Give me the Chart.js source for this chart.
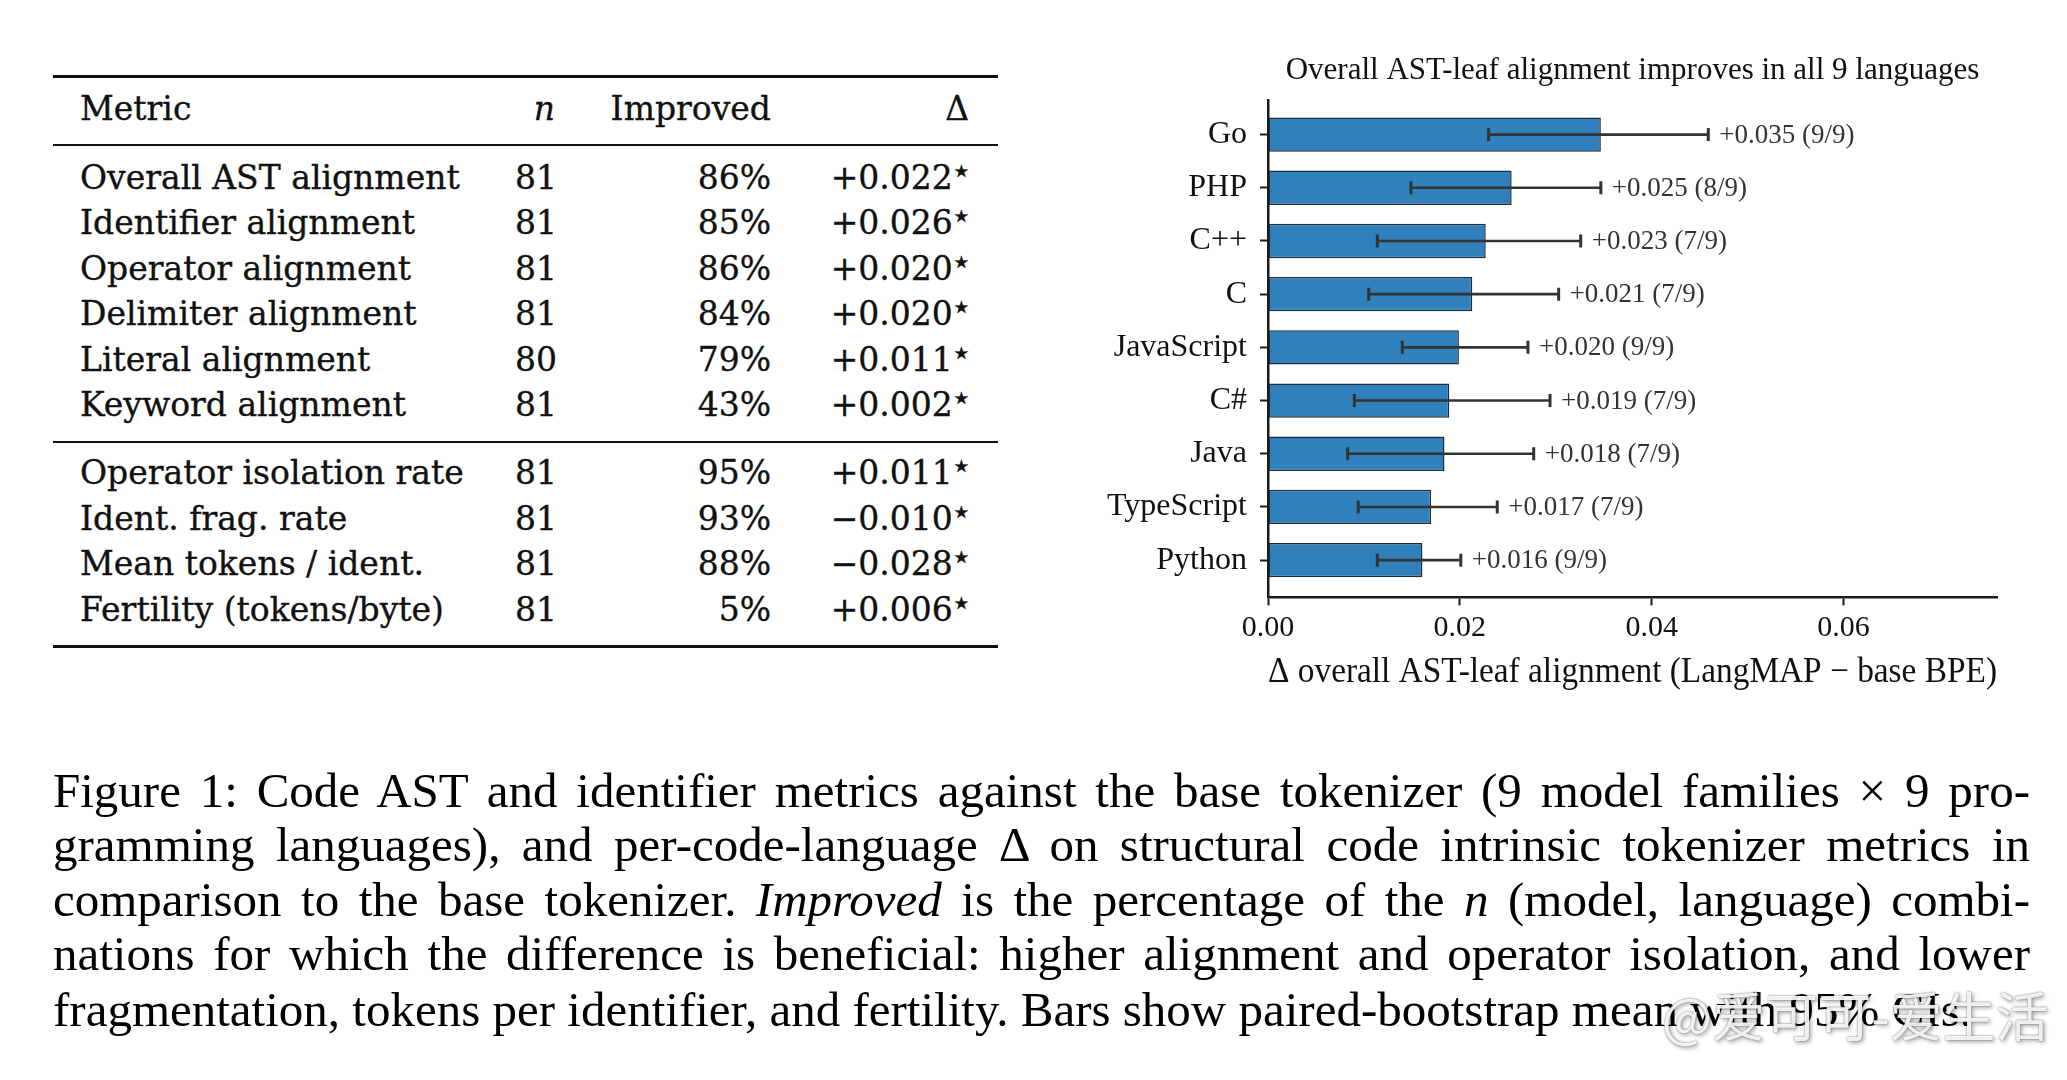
<!DOCTYPE html>
<html>
<head>
<meta charset="utf-8">
<script src="https://cdn.jsdelivr.net/npm/chart.js@4.4.1/dist/chart.umd.min.js"></script>
<style>
  html, body { margin: 0; padding: 0; background: #fff; }
  #page { position: relative; width: 2067px; height: 1080px; overflow: hidden; background: #fff; }
  .rule { position: absolute; left: 53px; width: 945px; background: #111; }
  .cell { position: absolute; font-family: "DejaVu Serif", serif; font-size: 33px; color: #111; line-height: 40px; white-space: nowrap; -webkit-text-stroke: 0.35px #111; }
  .star { font-family: "DejaVu Sans", sans-serif; font-size: 17px; position: relative; top: -12px; margin-left: 1px; }
  .cap { position: absolute; left: 53px; width: 1977px; font-family: "Liberation Serif", serif; font-size: 49px; line-height: 54px; color: #000; white-space: nowrap; }
  .just { text-align: justify; text-align-last: justify; }
  #chartBox { position: absolute; left: 1060px; top: 40px; width: 1000px; height: 654px; }
  #wm { position: absolute; left: 1662px; top: 976px; font-family: "Noto Sans CJK SC", sans-serif; font-size: 53px; color: rgba(255,255,255,0.9);
        text-shadow: 0 0 2px rgba(0,0,0,0.55), 2px 2px 4px rgba(0,0,0,0.35); white-space: nowrap; }
</style>
</head>
<body>
<div id="page">
  <div id="table"></div>
  <div id="chartBox"><canvas id="chartAst"></canvas></div>

  <div class="cap just" style="top:764px">Figure 1: Code AST and identifier metrics against the base tokenizer (9 model families × 9 pro-</div>
  <div class="cap just" style="top:818px">gramming languages), and per-code-language Δ on structural code intrinsic tokenizer metrics in</div>
  <div class="cap just" style="top:873px">comparison to the base tokenizer. <i>Improved</i> is the percentage of the <i>n</i> (model, language) combi-</div>
  <div class="cap just" style="top:927px">nations for which the difference is beneficial: higher alignment and operator isolation, and lower</div>
  <div class="cap" style="top:983px">fragmentation, tokens per identifier, and fertility. Bars show paired-bootstrap mean with 95% CIs.</div>

  <div id="wm">@爱可可-爱生活</div>
</div>

<script>
// Tabela de métricas
const metricNames = ['Overall AST alignment', 'Identifier alignment', 'Operator alignment', 'Delimiter alignment',
  'Literal alignment', 'Keyword alignment', 'Operator isolation rate', 'Ident. frag. rate',
  'Mean tokens / ident.', 'Fertility (tokens/byte)'];
const nValues = [81, 81, 81, 81, 80, 81, 81, 81, 81, 81];
const improvedPct = [86, 85, 86, 84, 79, 43, 95, 93, 88, 5];
const deltaValues = [0.022, 0.026, 0.020, 0.020, 0.011, 0.002, 0.011, -0.010, -0.028, 0.006];

// Gráfico por linguagem
const languages = ['Go', 'PHP', 'C++', 'C', 'JavaScript', 'C#', 'Java', 'TypeScript', 'Python'];
const meanDelta = [0.0347, 0.0254, 0.0227, 0.0213, 0.0199, 0.0189, 0.0184, 0.0170, 0.0161];
const ciLow = [0.0230, 0.0149, 0.0114, 0.0105, 0.0140, 0.0090, 0.0083, 0.0094, 0.0114];
const ciHigh = [0.0459, 0.0347, 0.0326, 0.0303, 0.0271, 0.0294, 0.0277, 0.0239, 0.0201];
const modelWins = [9, 8, 7, 7, 9, 7, 7, 7, 9];
const modelCount = 9;
const xTicks = [0, 0.02, 0.04, 0.06];
const chartTitle = 'Overall AST-leaf alignment improves in all 9 languages';

// ---- caption: shrink a bit if a line would overflow ----
const caps = Array.from(document.querySelectorAll('.cap'));
let capSize = 49;
while (capSize > 36 && caps.some(c => c.scrollWidth > 1977)) {
  capSize -= 0.5;
  caps.forEach(c => { c.style.fontSize = capSize + 'px'; });
}

// ---- table ----
const table = document.getElementById('table');
function addCell(text, top, opts) {
  const d = document.createElement('div');
  d.className = 'cell';
  d.innerHTML = text;
  d.style.top = (top - 20) + 'px';
  if (opts.left != null) d.style.left = opts.left + 'px';
  if (opts.right != null) { d.style.left = (opts.right - 400) + 'px'; d.style.width = '400px'; d.style.textAlign = 'right'; }
  table.appendChild(d);
}
function addRule(top, h) {
  const r = document.createElement('div');
  r.className = 'rule';
  r.style.top = top + 'px';
  r.style.height = h + 'px';
  table.appendChild(r);
}
addRule(75, 3);
addRule(144, 2);
addRule(441, 2);
addRule(645, 3);

addCell('Metric', 109, { left: 80 });
addCell('<i>n</i>', 109, { right: 555 });
addCell('Improved', 109, { right: 771 });
addCell('Δ', 109, { right: 969 });

metricNames.forEach((name, i) => {
  const y = i < 6 ? 178 + i * 45.4 : 473 + (i - 6) * 45.6;
  const d = deltaValues[i];
  const txt = (d < 0 ? '−' : '+') + Math.abs(d).toFixed(3) + '<span class="star">★</span>';
  addCell(name, y, { left: 80 });
  addCell(String(nValues[i]), y, { right: 557 });
  addCell(improvedPct[i] + '%', y, { right: 771 });
  addCell(txt, y, { right: 969 });
});

// ---- chart ----
const serif = 'Liberation Serif';

// título centrado na área do gráfico
const areaTitle = {
  id: 'areaTitle',
  afterDraw(chart) {
    const ctx = chart.ctx;
    const a = chart.chartArea;
    ctx.save();
    ctx.fillStyle = '#111';
    ctx.font = '31px "' + serif + '"';
    ctx.textAlign = 'center';
    ctx.textBaseline = 'middle';
    ctx.fillText(chartTitle, (a.left + a.right) / 2, 31);
    ctx.restore();
  }
};

const errorBars = {
  id: 'errorBars',
  afterDatasetsDraw(chart) {
    const ctx = chart.ctx;
    const xs = chart.scales.x;
    const meta = chart.getDatasetMeta(0);
    ctx.save();
    meta.data.forEach((bar, i) => {
      const y = bar.y;
      const x1 = xs.getPixelForValue(ciLow[i]);
      const x2 = xs.getPixelForValue(ciHigh[i]);
      ctx.strokeStyle = '#333';
      ctx.lineWidth = 2.6;
      ctx.beginPath();
      ctx.moveTo(x1, y); ctx.lineTo(x2, y);
      ctx.stroke();
      ctx.lineWidth = 3;
      ctx.beginPath();
      ctx.moveTo(x1, y - 6.5); ctx.lineTo(x1, y + 6.5);
      ctx.moveTo(x2, y - 6.5); ctx.lineTo(x2, y + 6.5);
      ctx.stroke();
      ctx.fillStyle = '#333';
      ctx.font = '27px "' + serif + '"';
      ctx.textAlign = 'left';
      ctx.textBaseline = 'middle';
      ctx.fillText('+' + meanDelta[i].toFixed(3) + ' (' + modelWins[i] + '/' + modelCount + ')', x2 + 11, y + 1);
    });
    ctx.restore();
  }
};

const ctxAst = document.getElementById('chartAst').getContext('2d');
const chartAst = new Chart(ctxAst, {
  type: 'bar',
  data: {
    datasets: [{
      data: meanDelta.map((v, i) => ({ x: v, y: i })),
      backgroundColor: '#2f80bb',
      borderColor: '#1c2b3a',
      borderWidth: 1.5,
      borderSkipped: false,
      categoryPercentage: 1,
      barPercentage: 0.645
    }]
  },
  options: {
    indexAxis: 'y',
    responsive: true,
    maintainAspectRatio: false,
    animation: false,
    layout: { padding: { left: 0, right: 63, top: 60, bottom: 0 } },
    plugins: {
      legend: { display: false },
      tooltip: { enabled: false },
      title: { display: false }
    },
    scales: {
      x: {
        type: 'linear',
        min: 0,
        max: 0.076,
        afterBuildTicks: (s) => { s.ticks = xTicks.map(v => ({ value: v })); },
        grid: { drawOnChartArea: false, tickLength: 8, tickWidth: 2, tickColor: '#1a1a1a' },
        border: { display: true, color: '#1a1a1a', width: 2.5 },
        ticks: { color: '#111', font: { family: serif, size: 30 }, padding: 5, callback: v => v.toFixed(2) },
        title: {
          display: true,
          text: 'Δ overall AST-leaf alignment (LangMAP − base BPE)',
          color: '#111',
          font: { family: serif, size: 35.5 },
          padding: { top: 0, bottom: 0 }
        }
      },
      y: {
        type: 'linear',
        reverse: true,
        offset: false,
        min: -0.65,
        max: 8.70,
        afterBuildTicks: (s) => { s.ticks = languages.map((_, i) => ({ value: i })); },
        afterFit: (s) => { s.width = 208; },
        grid: { offset: false, drawOnChartArea: false, tickLength: 8, tickWidth: 2, tickColor: '#1a1a1a' },
        border: { display: true, color: '#1a1a1a', width: 2.5 },
        ticks: { color: '#111', font: { family: serif, size: 32 }, padding: 13, autoSkip: false, callback: v => languages[v] }
      }
    }
  },
  plugins: [errorBars, areaTitle]
});
</script>
</body>
</html>
